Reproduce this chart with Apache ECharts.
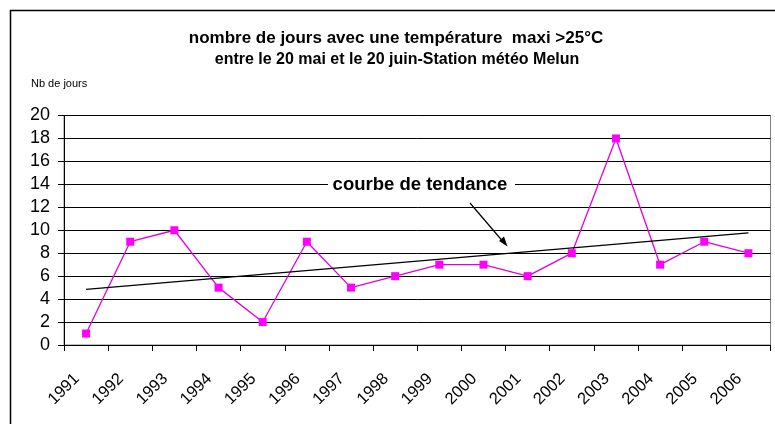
<!DOCTYPE html>
<html><head><meta charset="utf-8">
<script src="https://cdn.jsdelivr.net/npm/echarts@6/dist/echarts.min.js"></script>
<style>html,body{margin:0;padding:0;background:#fff}#c{width:775px;height:424px}</style>
</head><body><div id="c"></div>
<script>
const years = ['1991','1992','1993','1994','1995','1996','1997','1998','1999','2000','2001','2002','2003','2004','2005','2006'];
const jours = [1, 9, 10, 5, 2, 9, 5, 6, 7, 7, 6, 8, 18, 7, 9, 8];
const trendStart = 4.85;
const trendEnd = 9.77;
const titleText = 'nombre de jours avec une température  maxi >25°C';
const subText = 'entre le 20 mai et le 20 juin-Station météo Melun';
const yLabel = 'Nb de jours';
const annotation = 'courbe de tendance';

const chart = echarts.init(document.getElementById('c'), null, {renderer: 'canvas'});
const F = 'Arial, "Liberation Sans", sans-serif';
chart.setOption({
  animation: false,
  backgroundColor: '#fff',
  grid: {left: 64, right: 4.5, top: 115.5, bottom: 79, show: true, borderColor: '#808080', borderWidth: 1, containLabel: false},
  xAxis: {
    type: 'category', data: years, boundaryGap: true,
    axisLine: {lineStyle: {color: '#000', width: 1}},
    axisTick: {show: true, length: 6, interval: 0, lineStyle: {color: '#000'}},
    axisLabel: {interval: 0, rotate: 45, fontSize: 16.5, fontFamily: F, color: '#000', margin: 22, padding: [0, 13, 0, 0]}
  },
  yAxis: {
    type: 'value', min: 0, max: 20, interval: 2,
    axisLine: {show: true, lineStyle: {color: '#000', width: 1}},
    axisTick: {show: true, length: 6, lineStyle: {color: '#000'}},
    axisLabel: {fontSize: 18, fontFamily: F, color: '#000', margin: 14},
    splitLine: {lineStyle: {color: '#000', width: 1}}
  },
  series: [{
    type: 'line', data: jours,
    symbol: 'rect', symbolSize: 8,
    itemStyle: {color: '#ff00ff'},
    lineStyle: {color: '#e000e0', width: 1.3},
    markLine: {
      silent: true, symbol: ['none', 'none'],
      lineStyle: {color: '#000', width: 1.2, type: 'solid'},
      label: {show: false},
      data: [[{coord: [0, trendStart]}, {coord: [years.length - 1, trendEnd]}]]
    }
  }],
  graphic: [
    {type: 'rect', shape: {x: 10.5, y: 10.5, width: 800, height: 440}, style: {fill: 'none', stroke: '#000', lineWidth: 1.5}, silent: true, z: 100},
    {type: 'text', x: 396, y: 47, style: {text: titleText, font: 'bold 17px ' + F, fill: '#000', textAlign: 'center', textVerticalAlign: 'bottom'}},
    {type: 'text', x: 397, y: 68, style: {text: subText, font: 'bold 16px ' + F, fill: '#000', textAlign: 'center', textVerticalAlign: 'bottom'}},
    {type: 'text', x: 31, y: 84, style: {text: yLabel, font: '11px ' + F, fill: '#000', textAlign: 'left', textVerticalAlign: 'middle'}},
    {type: 'rect', shape: {x: 328, y: 175, width: 187, height: 20}, style: {fill: '#fff'}, z: 50},
    {type: 'text', x: 420, y: 185, z: 51, style: {text: annotation, font: 'bold 18.5px ' + F, fill: '#000', textAlign: 'center', textVerticalAlign: 'middle'}},
    {type: 'line', z: 51, shape: {x1: 470, y1: 203, x2: 505, y2: 244}, style: {stroke: '#000', lineWidth: 1.2}},
    {type: 'polygon', z: 51, shape: {points: [[507.5, 246.5], [499, 241], [504, 236.5]]}, style: {fill: '#000'}}
  ]
});
</script></body></html>
